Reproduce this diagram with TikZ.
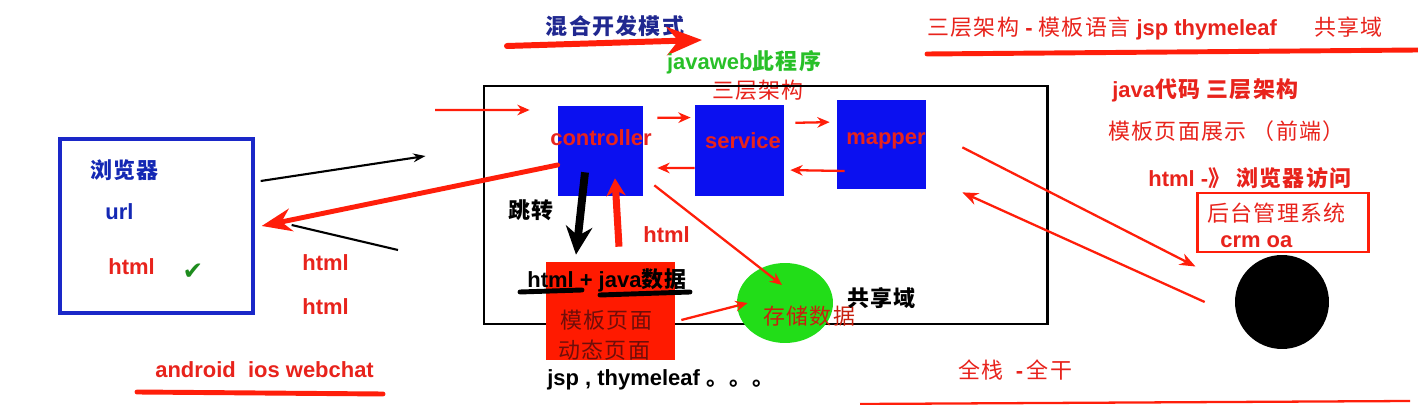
\documentclass[tikz,border=0pt]{standalone}
\usepackage{fontspec}
\setmainfont{Liberation Sans}
\newfontfamily\cjk[LetterSpace=6]{Noto Sans CJK SC}
\newfontfamily\symb{DejaVu Sans}
\usetikzlibrary{arrows.meta,positioning,shapes.geometric,calc,fit}
\definecolor{MarkRed}{HTML}{FF1E0A}
\definecolor{LabelRed}{HTML}{E8231C}
\definecolor{LayerBlue}{HTML}{0B10F0}
\definecolor{BrowserBlue}{HTML}{1A28C8}
\definecolor{TextBlue}{HTML}{1428B4}
\definecolor{Navy}{HTML}{202890}
\definecolor{SiteGreen}{HTML}{28C028}
\definecolor{StoreGreen}{HTML}{22DD18}
\definecolor{CheckGreen}{HTML}{1E8C1E}
\definecolor{PageRed}{HTML}{FF1A00}
\definecolor{PageText}{HTML}{6E0E0A}
\definecolor{StoreText}{HTML}{C8200E}

\begin{document}
\begin{tikzpicture}[
  x=0.02cm, y=-0.02cm,
  lbl/.style={inner sep=0pt,font=\fontsize{12.5}{15}\selectfont\bfseries},
  redlbl/.style={lbl,text=LabelRed},
  bluelbl/.style={lbl,text=TextBlue},
  blklbl/.style={lbl,text=black},
  layer/.style={fill=LayerBlue,inner sep=0pt},
  frame/.style={draw=black,line width=1.7pt,inner sep=0pt},
  thinarrow/.style={-{Stealth[length=7pt,width=6pt]},draw=MarkRed,line width=1.3pt},
  fatarrow/.style={-{Stealth[length=17pt,width=13pt]},draw=MarkRed,line width=2.8pt,line cap=round},
  jumparrow/.style={-{Stealth[length=16pt,width=15pt]},draw=black,line width=4.5pt},
  backarrow/.style={-{Stealth[length=10pt,width=11pt]},draw=MarkRed,line width=4pt},
  blkarrow/.style={-{Stealth[length=7pt,width=5pt]},draw=black,line width=1.2pt},
  pen/.style={line width=2.8pt,line cap=round}
]
\useasboundingbox[fill=white] (0,0) rectangle (1418,405);

% browser
\node[frame,draw=BrowserBlue,line width=1.9pt,fit={(60,139) (253,313)}] (browser) {};
\node[bluelbl,anchor=west] (bname) at (90,170) {\cjk 浏览器};
\node[bluelbl,anchor=west] (url) at (105,212) {url};
\node[redlbl,anchor=west] (bhtml) at (108,267) {html};
\node[inner sep=0pt,text=CheckGreen,font=\symb\fontsize{14}{16}\selectfont] (tick) at (193,272) {✔};
\node[redlbl,anchor=west] (resp1) at (302,263) {html};
\node[redlbl,anchor=west] (resp2) at (302,307) {html};
\node[redlbl,anchor=west] (apps) at (155,370) {android\ \ ios webchat};
\draw[MarkRed,pen] (137,392) -- (383,394);

% mode title
\node[lbl,text=Navy] (mode) at (615,26) {\cjk 混合开发模式};
\coordinate (modeL) at (507,46);
\coordinate (modeR) at (702,40);
\draw[fatarrow,line width=3.4pt,-{Stealth[length=20pt,width=16pt]}] (modeL) -- (modeR);
\node[lbl,text=SiteGreen] (site) at (744,62) {javaweb{\cjk 此程序}};
\node[redlbl] (tiers) at (758,90) {\cjk\mdseries 三层架构};

% web application
\node[frame,fit={(484,86) (1047,324)}] (web) {};
\node[layer,fit={(558,106) (643,196)}] (ctrl) {};
\node[layer,fit={(695,105) (784,196)}] (svc) {};
\node[layer,fit={(837,100) (926,189)}] (mapr) {};
\node[redlbl] (ctrlname) at (601,138) {controller};
\node[redlbl] (svcname) at (743,141) {service};
\node[redlbl] (maprname) at (886,141) {mapper};

\node[fill=PageRed,inner sep=0pt,fit={(546,262) (675,360)}] (tmpl) {};
\node[blklbl,anchor=west] (mix) at (527,280) {html + java{\cjk 数据}};
\draw[pen] (520,292) -- (582,290);
\draw[pen] (600,295) -- (690,292);
\node[lbl,text=PageText,anchor=west] (tpl1) at (560,320) {\cjk\mdseries 模板页面};
\node[lbl,text=PageText,anchor=west] (tpl2) at (558,350) {\cjk\mdseries 动态页面};
\node[blklbl,anchor=west] (engines) at (547,380) {jsp , thymeleaf {\cjk 。。。}};
\node[blklbl,anchor=west] (jump) at (508,210) {\cjk 跳转};
\node[redlbl,anchor=west] (rethtml) at (643,235) {html};

\node[ellipse,fill=StoreGreen,minimum width=1.92cm,minimum height=1.6cm,inner sep=0pt] (store) at (785,303) {};
\node[lbl,text=StoreText,anchor=west] (storetxt) at (763,316) {\cjk\mdseries 存储数据};
\node[blklbl,anchor=west] (shared) at (847,298) {\cjk 共享域};

% request / response
\coordinate (inL) at (435,110);
\draw[thinarrow] (inL) -- ([xshift=-.56cm,yshift=.82cm]ctrl.west);
\draw[blkarrow] ([xshift=.12cm,yshift=.9cm]browser.east) -- ([xshift=-1.14cm,yshift=.98cm]web.west);
\draw[fatarrow] ([yshift=-.28cm]ctrl.west) -- ([xshift=.14cm]browser.east);
\coordinate (ret) at (398,250);
\draw[black,line width=1.2pt] (ret) -- ([xshift=.74cm,yshift=.02cm]browser.east);

% tiers
\draw[thinarrow,shorten <=.28cm,shorten >=.08cm] ([yshift=.66cm]ctrl.east) -- ([yshift=.66cm]svc.west);
\draw[thinarrow,shorten <=.22cm,shorten >=.14cm] ([yshift=.55cm]svc.east) -- ([yshift=.45cm]mapr.west);
\draw[thinarrow,shorten >=.12cm] ([xshift=.16cm,yshift=-.53cm]mapr.west) -- ([yshift=-.39cm]svc.east);
\draw[thinarrow,shorten >=.28cm] ([yshift=-.35cm]svc.west) -- ([yshift=-.34cm]ctrl.east);

\draw[jumparrow] ([xshift=-.31cm,yshift=.48cm]ctrl.south) -- ([xshift=-.69cm,yshift=.14cm]tmpl.north);
\draw[backarrow] ([xshift=.17cm,yshift=.3cm]tmpl.north) -- ([xshift=.29cm,yshift=.36cm]ctrl.south);
\draw[thinarrow] ([xshift=.22cm,yshift=.22cm]ctrl.south east) -- ([xshift=-.06cm,yshift=.36cm]store.center);
\draw[thinarrow] ([xshift=.12cm,yshift=-.18cm]tmpl.east) -- ([xshift=.22cm]store.west);

% right side notes
\node[redlbl,anchor=west] (title) at (927,28) {{\cjk\mdseries 三层架构} - {\cjk\mdseries 模板语言} jsp thymeleaf\hspace{0.75cm}{\cjk\mdseries 共享域}};
\draw[MarkRed,pen] (927,54) -- (1418,50);
\node[redlbl,anchor=west] (javacode) at (1112,90) {java{\cjk 代码 三层架构}};
\node[redlbl,anchor=west] (front) at (1108,131) {\cjk\mdseries 模板页面展示 （前端）};
\node[redlbl,anchor=west] (visit) at (1148,178) {html -{\cjk 》 浏览器访问}};
\node[frame,draw=MarkRed,fit={(1197,193) (1368,252)}] (admin) {};
\node[redlbl,anchor=west] (adminname) at (1207,213) {\cjk\mdseries 后台管理系统};
\node[redlbl,anchor=west] (crm) at (1220,242) {crm oa};
\node[circle,fill=black,minimum size=1.88cm,inner sep=0pt] (dot) at (1282,302) {};
\draw[thinarrow,-{Stealth[length=9pt,width=7pt]}] ([xshift=.72cm,yshift=.84cm]mapr.south east) -- ([yshift=-.26cm]admin.south west);
\draw[thinarrow,-{Stealth[length=9pt,width=7pt]}] ([xshift=-.6cm]dot.west) -- ([xshift=.72cm,yshift=-.06cm]mapr.south east);
\node[redlbl,anchor=west] (fullstack) at (958,370) {{\cjk\mdseries 全栈}\ \ -\,{\cjk\mdseries 全干}};
\draw[MarkRed,line width=1.3pt] (860,404) -- (1410,401);
\end{tikzpicture}
\end{document}
